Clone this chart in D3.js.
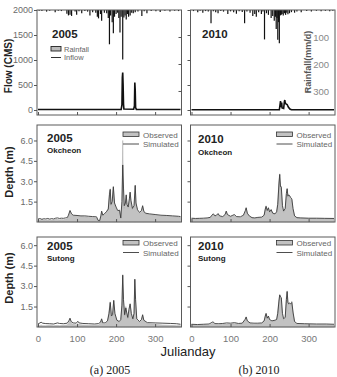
<!DOCTYPE html>
<html>
<head>
<meta charset="utf-8">
<script src="https://cdn.jsdelivr.net/npm/d3@7"></script>
<style>
  body { margin: 0; background: #fff; }
  svg { display: block; font-family: "Liberation Sans", Arial, sans-serif; }
</style>
</head>
<body>
<svg></svg>
<script>
// hydrograph comparison 2005 / 2010

const width = 337;
const height = 377;

// rainfall (day, mm/d)
const rain2005 = [[3,3],[10,4],[22,6],[30,3],[44,8],[52,3],[60,4],[74,14],[78,20],[82,18],[86,22],[95,6],[99,18],[105,5],[112,12],[120,4],[127,6],[133,20],[140,8],[148,10],[152,25],[155,31],[160,15],[163,40],[170,10],[176,12],[180,30],[183,127],[186,20],[190,45],[193,86],[196,25],[200,15],[204,10],[207,30],[210,83],[213,25],[217,183],[220,28],[223,20],[226,35],[229,15],[232,25],[236,20],[240,10],[244,12],[249,8],[256,6],[266,22],[272,5],[279,12],[290,4],[302,5],[313,7],[325,3],[338,6],[350,3],[360,4]];
const rain2010 = [[5,4],[16,8],[22,3],[29,10],[36,4],[43,6],[50,49],[56,5],[62,8],[68,12],[75,4],[82,6],[93,15],[100,5],[108,8],[115,14],[122,5],[130,7],[136,49],[142,6],[150,10],[157,22],[162,15],[166,25],[172,8],[179,15],[183,6],[187,109],[192,12],[197,18],[204,30],[208,22],[212,40],[215,25],[217,70],[219,30],[221,110],[223,45],[225,123],[228,20],[230,18],[232,15],[235,20],[238,12],[241,18],[244,10],[247,16],[251,12],[256,8],[264,10],[270,6],[281,8],[295,4],[307,6],[320,3],[332,5],[343,3],[354,5],[362,3]];

// inflow (day, CMS)
const inflow2005 = [[0,10],[150,10],[213,10],[215,100],[216,650],[217,750],[218,500],[219,120],[220,20],[245,15],[247,80],[248,550],[249,400],[250,50],[252,12],[365,10]];
const inflow2010 = [[0,5],[225,5],[227,120],[228,180],[229,60],[231,150],[232,40],[236,30],[238,170],[239,200],[240,150],[242,120],[245,110],[248,60],[252,20],[256,5],[365,5]];

// water depth (day, observed m, simulated m)
const okcheon2005 = [[0,0.15,0.22],[5,0.12,0.25],[10,0.18,0.2],[15,0.14,0.24],[20,0.12,0.22],[25,0.16,0.26],[30,0.13,0.21],[35,0.15,0.25],[40,0.14,0.22],[45,0.2,0.28],[50,0.18,0.3],[55,0.16,0.26],[60,0.18,0.28],[65,0.17,0.27],[70,0.2,0.3],[75,0.22,0.32],[78,0.4,0.5],[82,0.8,0.85],[86,0.55,0.6],[90,0.45,0.5],[100,0.42,0.48],[110,0.4,0.45],[120,0.38,0.45],[130,0.35,0.42],[140,0.33,0.4],[150,0.3,0.38],[154,0.1,0.12],[158,0.08,0.1],[161,0.4,0.45],[163,0.75,0.8],[166,0.45,0.5],[170,0.55,0.6],[175,0.7,0.75],[180,1.0,0.95],[183,2.2,2.0],[185,2.45,2.4],[187,1.2,1.3],[190,1.4,1.5],[193,2.55,2.6],[196,1.3,1.4],[200,1.0,1.1],[204,0.8,0.85],[209,0.9,0.85],[212,0.25,0.3],[215,1.2,1.5],[217,6.0,4.2],[219,2.0,2.5],[221,1.0,1.2],[224,1.5,1.4],[226,1.95,2.0],[228,1.2,1.3],[231,1.0,1.1],[234,1.6,1.7],[236,2.15,2.2],[238,1.5,1.6],[242,0.9,1.0],[246,1.1,1.2],[249,2.65,2.7],[251,1.3,1.4],[255,0.8,0.9],[260,0.6,0.7],[265,0.8,0.85],[268,1.15,1.2],[271,0.75,0.8],[275,0.6,0.65],[285,0.55,0.6],[300,0.5,0.55],[315,0.45,0.5],[330,0.42,0.48],[345,0.4,0.45],[360,0.38,0.42],[365,0.35,0.4]];
const okcheon2010 = [[0,0.25,0.28],[10,0.22,0.26],[20,0.24,0.27],[30,0.22,0.28],[40,0.26,0.3],[48,0.3,0.34],[52,0.45,0.5],[56,0.55,0.6],[60,0.42,0.45],[64,0.45,0.5],[68,0.6,0.62],[72,0.4,0.45],[80,0.35,0.4],[86,0.5,0.55],[89,0.78,0.8],[92,0.5,0.55],[100,0.38,0.42],[106,0.45,0.5],[110,0.5,0.55],[115,0.35,0.4],[125,0.32,0.38],[133,0.45,0.5],[138,0.8,0.85],[140,1.0,1.05],[143,0.6,0.65],[148,0.4,0.45],[155,0.3,0.32],[162,0.28,0.3],[170,0.3,0.34],[180,0.32,0.36],[186,0.45,0.5],[189,1.0,0.95],[191,1.2,1.15],[194,0.8,0.85],[197,1.0,1.05],[200,0.7,0.75],[204,0.95,0.9],[208,0.6,0.65],[214,0.55,0.6],[218,0.7,0.75],[221,1.5,1.3],[224,3.0,2.8],[226,3.55,3.5],[228,2.4,2.6],[230,2.5,2.6],[233,1.0,1.2],[236,0.7,0.8],[240,0.9,1.0],[243,2.0,2.1],[245,2.45,2.45],[247,1.8,1.9],[249,1.9,2.0],[251,1.95,1.95],[254,1.7,1.8],[257,1.6,1.7],[260,0.9,1.0],[264,0.4,0.45],[270,0.3,0.32],[280,0.28,0.3],[300,0.26,0.28],[320,0.25,0.28],[340,0.24,0.27],[365,0.24,0.26]];
const sutong2005 = [[0,0.12,0.22],[5,0.1,0.3],[8,0.15,0.35],[12,0.1,0.28],[20,0.1,0.25],[30,0.12,0.24],[40,0.1,0.22],[50,0.12,0.3],[55,0.1,0.26],[65,0.12,0.24],[75,0.15,0.28],[79,0.3,0.45],[82,0.55,0.65],[85,0.3,0.4],[90,0.2,0.3],[98,0.15,0.28],[102,0.25,0.42],[105,0.18,0.3],[115,0.15,0.26],[130,0.12,0.24],[145,0.12,0.22],[155,0.15,0.25],[160,0.25,0.35],[163,0.5,0.6],[166,0.2,0.3],[172,0.2,0.3],[178,0.4,0.45],[182,1.2,1.0],[185,1.85,1.8],[188,0.7,0.8],[191,0.8,0.9],[194,1.95,1.95],[197,0.9,1.0],[202,0.45,0.5],[208,0.35,0.4],[212,0.5,0.55],[215,1.8,1.6],[217,3.85,3.8],[219,1.8,2.0],[222,0.8,0.9],[225,1.5,1.4],[227,1.0,1.1],[230,0.6,0.7],[233,1.2,1.3],[236,1.65,1.7],[239,0.9,1.0],[243,0.5,0.6],[246,1.0,1.0],[248,3.5,3.5],[250,1.8,2.0],[253,0.5,0.6],[260,0.35,0.4],[265,0.5,0.55],[268,0.85,0.9],[271,0.45,0.5],[280,0.25,0.32],[300,0.2,0.3],[320,0.15,0.28],[340,0.12,0.26],[355,0.1,0.24],[365,0.1,0.2]];
const sutong2010 = [[0,0.15,0.2],[15,0.12,0.18],[30,0.14,0.2],[45,0.15,0.22],[50,0.2,0.3],[55,0.3,0.38],[60,0.18,0.25],[70,0.16,0.24],[80,0.2,0.26],[90,0.22,0.3],[100,0.2,0.28],[110,0.25,0.32],[120,0.2,0.26],[130,0.22,0.28],[137,0.5,0.55],[140,0.7,0.74],[143,0.4,0.45],[150,0.25,0.3],[160,0.2,0.28],[170,0.22,0.28],[180,0.25,0.3],[186,0.4,0.45],[189,0.85,0.8],[191,0.95,1.0],[194,0.6,0.65],[197,0.8,0.8],[200,0.5,0.55],[206,0.4,0.45],[214,0.45,0.5],[218,0.5,0.55],[221,1.2,1.0],[224,2.0,1.9],[226,2.4,2.35],[228,2.15,2.2],[230,2.2,2.15],[233,0.8,1.0],[236,0.5,0.6],[240,0.6,0.7],[243,2.2,2.0],[245,2.65,2.6],[247,1.7,1.8],[249,1.8,1.7],[251,1.75,1.75],[254,1.6,1.7],[257,1.9,1.8],[260,1.0,1.1],[264,0.35,0.4],[270,0.2,0.26],[290,0.18,0.24],[320,0.17,0.22],[345,0.16,0.22],[365,0.15,0.2]];

// tick values
const dayTicks = [0, 100, 200, 300];
const flowTicks = [0, 500, 1000, 1500, 2000];
const rainTicks = [100, 200, 300];
const depthTicks = [1.5, 3.0, 4.5, 6.0];
const years = ["2005", "2010"];
const captions = ["(a)  2005", "(b)  2010"];

const svg = d3.select("svg").attr("width", width).attr("height", height);

// layout
const colX = [37, 190.5];
const panelW = 144.5;
const rows = { flow: [10, 115], ok: [125, 222], su: [237, 327] };

const obsFill = "#c2c2c2";
const simColor = "#3a3a3a";
const tickColor = "#6a6a6a";

function xScale(c) {
  return d3.scaleLinear().domain([0, 365]).range([colX[c] + 1, colX[c] + 143.5]);
}

function frame(c, row) {
  svg.append("rect")
    .attr("x", colX[c]).attr("y", row[0])
    .attr("width", panelW).attr("height", row[1] - row[0])
    .attr("fill", "none").attr("stroke", "#5a5a5a").attr("stroke-width", 1);
}

function styleAxis(g, size) {
  g.select(".domain").remove();
  g.selectAll("line").attr("stroke", "#555");
  g.selectAll("text").attr("fill", tickColor).style("font-size", size || "9px").style("font-family", "Liberation Sans, Arial");
}

function xAxis(c, row, labels) {
  const g = svg.append("g")
    .attr("transform", `translate(0,${row[1]})`)
    .call(d3.axisBottom(xScale(c)).tickValues(dayTicks).tickSize(-3).tickPadding(8)
      .tickFormat(labels ? d3.format("d") : ""));
  styleAxis(g, "9.5px");
  g.selectAll("text").attr("fill", "#777");
}

// ---- top row: rainfall + inflow ----
const flowY = d3.scaleLinear().domain([-100, 2000]).range([115, 10]);
const rainY = d3.scaleLinear().domain([0, 389]).range([10, 115]);

[rain2005, rain2010].forEach(function (rain, c) {
  const x = xScale(c);
  const inflow = c === 0 ? inflow2005 : inflow2010;

  svg.append("g").selectAll("line")
    .data(rain).enter().append("line")
    .attr("x1", (d) => x(d[0])).attr("x2", (d) => x(d[0]))
    .attr("y1", rainY(0)).attr("y2", (d) => rainY(d[1]))
    .attr("stroke", "#111").attr("stroke-width", 1.2);

  svg.append("path")
    .datum(inflow)
    .attr("fill", "none").attr("stroke", "#111").attr("stroke-width", 1.6)
    .attr("d", d3.line().x((d) => x(d[0])).y((d) => flowY(d[1])));

  frame(c, rows.flow);
  xAxis(c, rows.flow, false);

  const ga = svg.append("g")
    .attr("transform", `translate(${colX[c]},0)`)
    .call(d3.axisLeft(flowY).tickValues(flowTicks).tickSize(3).tickPadding(1)
      .tickFormat(c === 0 ? d3.format("d") : ""));
  styleAxis(ga);

  svg.append("text")
    .attr("x", c === 0 ? 52 : 202).attr("y", 38)
    .style("font-size", "11.5px").style("font-weight", "bold").attr("fill", "#222")
    .text(years[c]);
});

// rainfall ticks on the right side of the left panel
styleAxis(svg.append("g")
  .attr("transform", `translate(${colX[0] + panelW},0)`)
  .call(d3.axisRight(rainY).tickValues(rainTicks).tickSize(-3).tickFormat("")));

// rainfall labels inside the right panel
const gr = svg.append("g")
  .attr("transform", `translate(330,0)`)
  .call(d3.axisLeft(rainY).tickValues(rainTicks).tickSize(0).tickPadding(1));
styleAxis(gr, "9.5px");
gr.selectAll("text").attr("fill", "#888");

svg.append("text")
  .attr("transform", "translate(311,62) rotate(-90)")
  .style("text-anchor", "middle").style("font-size", "9px").style("font-weight", "bold")
  .attr("fill", "#555").text("Rainfall(mm/d)");

svg.append("text")
  .attr("transform", "translate(12,66) rotate(-90)")
  .style("text-anchor", "middle").style("font-size", "10px").style("font-weight", "bold")
  .attr("fill", "#222").text("Flow (CMS)");

// legend top-left
svg.append("rect").attr("x", 51).attr("y", 46.5).attr("width", 10).attr("height", 4.5)
  .attr("fill", "#bbb").attr("stroke", "#222").attr("stroke-width", 0.9);
svg.append("text").attr("x", 64).attr("y", 51.5).style("font-size", "7.5px").attr("fill", "#666").text("Rainfall");
svg.append("line").attr("x1", 51).attr("x2", 61).attr("y1", 57.5).attr("y2", 57.5).attr("stroke", "#333");
svg.append("text").attr("x", 64).attr("y", 60).style("font-size", "7.5px").attr("fill", "#666").text("Inflow");

// ---- depth panels ----
const depthPanels = [
  { c: 0, row: rows.ok, data: okcheon2005, name: "Okcheon", top: 7.14, yearY: 142, nameY: 153 },
  { c: 1, row: rows.ok, data: okcheon2010, name: "Okcheon", top: 7.14, yearY: 143, nameY: 155 },
  { c: 0, row: rows.su, data: sutong2005, name: "Sutong", top: 6.6, yearY: 250, nameY: 261 },
  { c: 1, row: rows.su, data: sutong2010, name: "Sutong", top: 6.6, yearY: 250, nameY: 261 }
];

depthPanels.forEach(function (p) {
  const x = xScale(p.c);
  const y = d3.scaleLinear().domain([0, p.top]).range([p.row[1], p.row[0]]);

  svg.append("path")
    .datum(p.data)
    .attr("fill", obsFill).attr("stroke", "#a8a8a8").attr("stroke-width", 0.5)
    .attr("d", d3.area().x((d) => x(d[0])).y0(y(0)).y1((d) => y(d[1])));

  svg.append("path")
    .datum(p.data)
    .attr("fill", "none").attr("stroke", simColor).attr("stroke-width", 0.9)
    .attr("d", d3.line().x((d) => x(d[0])).y((d) => y(d[2])));

  frame(p.c, p.row);
  xAxis(p.c, p.row, p.row === rows.su);

  styleAxis(svg.append("g")
    .attr("transform", `translate(${colX[p.c]},0)`)
    .call(d3.axisLeft(y).tickValues(depthTicks).tickSize(3).tickPadding(1)
      .tickFormat(p.c === 0 ? d3.format(".1f") : "")));

  const tx = p.c === 0 ? 47 : 198;
  svg.append("text").attr("x", tx).attr("y", p.yearY)
    .style("font-size", "11.5px").style("font-weight", "bold").attr("fill", "#222")
    .text(years[p.c]);
  svg.append("text").attr("x", tx).attr("y", p.nameY)
    .style("font-size", "8px").style("font-weight", "bold").attr("fill", "#222")
    .text(p.name);

  // legend
  const lx = colX[p.c] + 86;
  const ly = p.row === rows.ok ? 132 : 240.5;
  svg.append("rect").attr("x", lx).attr("y", ly).attr("width", 16).attr("height", 4.5)
    .attr("fill", obsFill).attr("stroke", "#333").attr("stroke-width", 0.8);
  svg.append("text").attr("x", lx + 20).attr("y", ly + 5.5).style("font-size", "8px").attr("fill", "#666").text("Observed");
  svg.append("line").attr("x1", lx).attr("x2", lx + 16).attr("y1", ly + 12).attr("y2", ly + 12)
    .attr("stroke", simColor).attr("stroke-width", 0.9);
  svg.append("text").attr("x", lx + 20).attr("y", ly + 15).style("font-size", "8px").attr("fill", "#666").text("Simulated");
});

// axis titles
[172, 278].forEach(function (cy) {
  svg.append("text")
    .attr("transform", `translate(13,${cy}) rotate(-90)`)
    .style("text-anchor", "middle").style("font-size", "11px").style("font-weight", "bold")
    .attr("fill", "#222").text("Depth (m)");
});

svg.append("text")
  .attr("x", 188).attr("y", 356)
  .style("text-anchor", "middle").style("font-size", "13px").attr("fill", "#222")
  .text("Julianday");

captions.forEach(function (t, i) {
  svg.append("text")
    .attr("x", i === 0 ? 110 : 259).attr("y", 374)
    .style("text-anchor", "middle").style("font-family", "Liberation Serif, Times New Roman, serif")
    .style("font-size", "12px").attr("fill", "#222")
    .text(t);
});
</script>
</body>
</html>
